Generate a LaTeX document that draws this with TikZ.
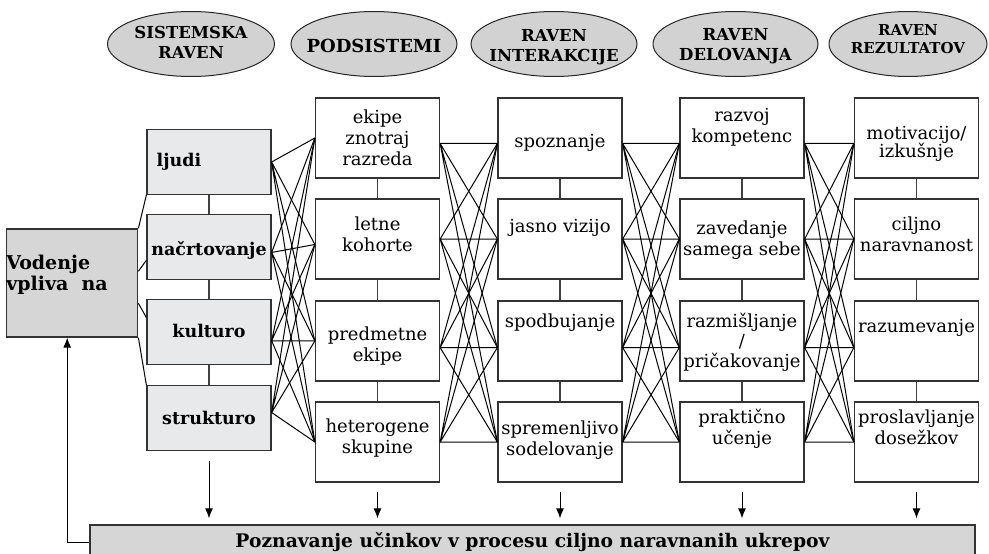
\documentclass[tikz,border=0pt]{standalone}
\usepackage{fontspec}
\setmainfont{DejaVu Serif}
\usetikzlibrary{shapes.geometric,arrows.meta}

\definecolor{headgray}{RGB}{210,210,210}
\definecolor{sysgray}{RGB}{232,233,235}
\definecolor{vodgray}{RGB}{214,214,214}

% text in a box, raised by #2 from the centre
\newcommand{\boxtext}[3][c]{\raisebox{\dimexpr#2-4.4pt\relax}[0pt][0pt]{\begin{tabular}{@{}#1@{}}#3\end{tabular}}}
% text that does not widen the ellipse
\newcommand{\headtext}[2]{\makebox[0pt]{\boxtext{#1}{#2}}}

\tikzset{
  levelhead/.style={ellipse, draw=black!85, fill=headgray, line width=1pt, minimum width=166pt, minimum height=65pt, inner sep=0pt, font=\bfseries\fontsize{16.5}{20}\selectfont},
  sysbox/.style={draw=black!80, fill=sysgray, line width=1.3pt, minimum width=124pt, minimum height=65pt, inner sep=0pt, font=\bfseries\fontsize{17.5}{21}\selectfont},
  subbox/.style={draw=black!80, fill=white, line width=1.3pt, minimum width=124pt, minimum height=80pt, inner sep=0pt, font=\fontsize{18}{21}\selectfont},
  crossline/.style={line width=1pt},
  vline/.style={line width=1.1pt, draw=black!75},
  downarrow/.style={line width=1pt, -{Latex[length=10pt,width=8pt]}, shorten <=9pt, shorten >=6pt}
}

\begin{document}
\begin{tikzpicture}[x=1pt,y=-1pt]
\useasboundingbox (0,0) rectangle (989,554);

% levels
\node[levelhead, minimum width=167pt] (h1) at (191,44) {\headtext{0pt}{SISTEMSKA\\RAVEN}};
\node[levelhead, font=\bfseries\fontsize{18}{20}\selectfont] (h2) at (374,44) {\headtext{-4pt}{PODSISTEMI}};
\node[levelhead] (h3) at (554,44) {\headtext{-3pt}{RAVEN\\INTERAKCIJE}};
\node[levelhead, minimum width=165pt] (h4) at (735.5,44) {\headtext{-2.5pt}{RAVEN\\DELOVANJA}};
\node[levelhead, minimum width=158pt, font=\bfseries\fontsize{15}{18}\selectfont] (h5) at (908,44) {\headtext{4pt}{RAVEN\\REZULTATOV}};

% system level
\node[sysbox, fill=vodgray, minimum height=108pt, font=\bfseries\fontsize{19}{21}\selectfont] (vod) at (72,283) {\boxtext[l]{7.5pt}{Vodenje\\vpliva\ \ na}\kern30pt};
\node[sysbox] (s1) at (209,162) {\boxtext{0pt}{ljudi}\kern60pt};
\node[sysbox] (s2) at (209,247) {\boxtext{-4pt}{načrtovanje}};
\node[sysbox] (s3) at (209,332) {\boxtext{-1pt}{kulturo}};
\node[sysbox] (s4) at (209,418) {\boxtext{-2pt}{strukturo}};

% subsystems
\node[subbox] (p1) at (377.5,138) {\boxtext{-2pt}{ekipe\\znotraj\\razreda}};
\node[subbox] (p2) at (377.5,239) {\boxtext{2pt}{letne\\kohorte}};
\node[subbox] (p3) at (377.5,341) {\boxtext{-6pt}{predmetne\\ekipe}};
\node[subbox] (p4) at (377.5,442) {\boxtext{3pt}{heterogene\\skupine}};

% interaction
\node[subbox] (i1) at (560,138) {\boxtext{-5pt}{spoznanje}};
\node[subbox] (i2) at (560,239) {\boxtext{11pt}{jasno vizijo}};
\node[subbox] (i3) at (560,341) {\boxtext{18pt}{spodbujanje}};
\node[subbox] (i4) at (560,442) {\boxtext{1pt}{spremenljivo\\sodelovanje}};

% action
\node[subbox] (d1) at (742,138) {\boxtext{10pt}{razvoj\\kompetenc}};
\node[subbox] (d2) at (742,239) {\boxtext{-2pt}{zavedanje\\samega sebe}};
\node[subbox] (d3) at (742,341) {\boxtext{-2pt}{razmišljanje\\[-1pt]/\\[-1pt]pričakovanje}};
\node[subbox] (d4) at (742,442) {\boxtext{12pt}{praktično\\učenje}};

% results
\node[subbox] (r1) at (916.5,138) {\boxtext{-6pt}{motivacijo/\\[-3pt]izkušnje}};
\node[subbox] (r2) at (916.5,239) {\boxtext{2pt}{ciljno\\naravnanost}};
\node[subbox] (r3) at (916.5,341) {\boxtext{13pt}{razumevanje}};
\node[subbox] (r4) at (916.5,442) {\boxtext{12pt}{proslavljanje\\dosežkov}};

\node[draw=black!80, fill=vodgray, line width=1.3pt, minimum width=885pt, minimum height=34pt, inner sep=0pt, font=\bfseries\fontsize{18.7}{20}\selectfont] (bar) at (532.5,542) {Poznavanje učinkov v procesu ciljno naravnanih ukrepov};

% columns
\draw[vline] (s1) -- (s2) (s2) -- (s3) (s3) -- (s4);
\draw[vline] (p1) -- (p2) (p2) -- (p3) (p3) -- (p4);
\draw[vline] (i1) -- (i2) (i2) -- (i3) (i3) -- (i4);
\draw[vline] (d1) -- (d2) (d2) -- (d3) (d3) -- (d4);
\draw[vline] (r1) -- (r2) (r2) -- (r3) (r3) -- (r4);

% from vodenje to the system level
\draw[crossline] (vod.north east) -- (s1.south west) (vod.10) -- (s2.192) (vod.-17) -- (s3.167) (vod.south east) -- (s4.north west);

% system level - subsystems
\draw[crossline] (s1.east) -- (p1.west) (s1.east) -- (p2.185) (s1.east) -- (p3.west) (s1.east) -- (p4.west);
\draw[crossline] (s2.-5) -- (p1.west) (s2.-5) -- (p2.185) (s2.-5) -- (p3.west) (s2.-5) -- (p4.west);
\draw[crossline] (s3.-8) -- (p1.west) (s3.-8) -- (p2.185) (s3.-8) -- (p3.west) (s3.-8) -- (p4.west);
\draw[crossline] (s4.5) -- (p1.west) (s4.5) -- (p2.185) (s4.5) -- (p3.west) (s4.5) -- (p4.west);

% subsystems - interaction
\draw[crossline] (p1.-5) -- (i1.185) (p1.-5) -- (i2.west) (p1.-5) -- (i3.186) (p1.-5) -- (i4.west);
\draw[crossline] (p2.east) -- (i1.185) (p2.east) -- (i2.west) (p2.east) -- (i3.186) (p2.east) -- (i4.west);
\draw[crossline] (p3.-6) -- (i1.185) (p3.-6) -- (i2.west) (p3.-6) -- (i3.186) (p3.-6) -- (i4.west);
\draw[crossline] (p4.east) -- (i1.185) (p4.east) -- (i2.west) (p4.east) -- (i3.186) (p4.east) -- (i4.west);

% interaction - action
\draw[crossline] (i1.-5) -- (d1.185) (i1.-5) -- (d2.west) (i1.-5) -- (d3.186) (i1.-5) -- (d4.west);
\draw[crossline] (i2.east) -- (d1.185) (i2.east) -- (d2.west) (i2.east) -- (d3.186) (i2.east) -- (d4.west);
\draw[crossline] (i3.-6) -- (d1.185) (i3.-6) -- (d2.west) (i3.-6) -- (d3.186) (i3.-6) -- (d4.west);
\draw[crossline] (i4.east) -- (d1.185) (i4.east) -- (d2.west) (i4.east) -- (d3.186) (i4.east) -- (d4.west);

% action - results
\draw[crossline] (d1.-5) -- (r1.185) (d1.-5) -- (r2.west) (d1.-5) -- (r3.186) (d1.-5) -- (r4.west);
\draw[crossline] (d2.east) -- (r1.185) (d2.east) -- (r2.west) (d2.east) -- (r3.186) (d2.east) -- (r4.west);
\draw[crossline] (d3.-6) -- (r1.185) (d3.-6) -- (r2.west) (d3.-6) -- (r3.186) (d3.-6) -- (r4.west);
\draw[crossline] (d4.east) -- (r1.185) (d4.east) -- (r2.west) (d4.east) -- (r3.186) (d4.east) -- (r4.west);

% down to the bar
\draw[downarrow, shorten <=10pt] (s4) -- (s4 |- bar.north);
\draw[downarrow] (p4) -- (p4 |- bar.north);
\draw[downarrow] (i4) -- (i4 |- bar.north);
\draw[downarrow] (d4) -- (d4 |- bar.north);
\draw[downarrow] (r4) -- (r4 |- bar.north);

% back to vodenje
\draw[line width=1pt, -{Latex[length=10pt,width=8pt]}] (bar.west) -| (vod.-95);
\end{tikzpicture}
\end{document}
